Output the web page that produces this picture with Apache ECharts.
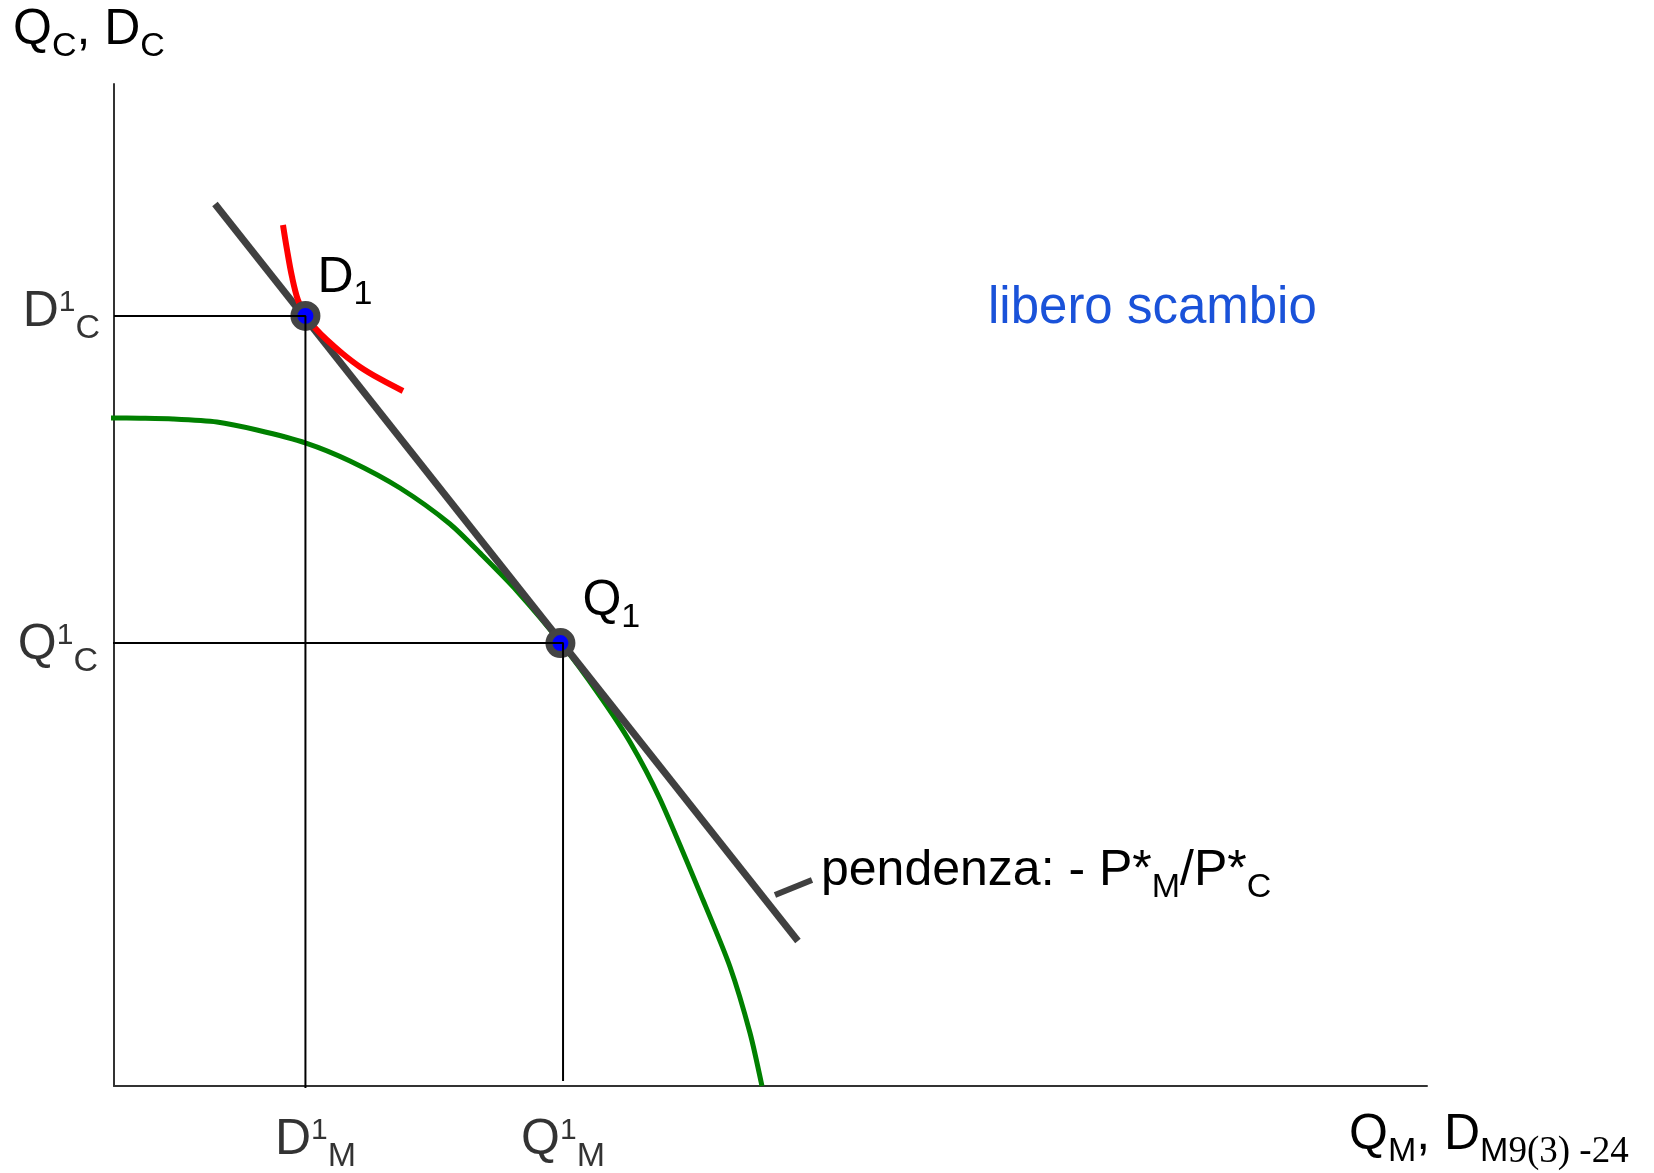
<!DOCTYPE html>
<html><head><meta charset="utf-8">
<script src="https://cdn.jsdelivr.net/npm/echarts@6/dist/echarts.min.js"></script>
<style>html,body{margin:0;padding:0;background:#fff}#c{width:1654px;height:1173px}</style>
</head><body><div id="c"></div>
<script>
// ---- data (axis units 0..100) ----
const ppfX = [-0.23, 1.98, 4.49, 7.84, 10.89, 14.62, 17.97, 21.78, 25.59, 28.10, 30.69, 34.04, 37.01, 39.30, 41.58, 44.86, 46.92, 48.44, 49.35];
const ppfY = [66.67, 66.64, 66.57, 66.27, 65.47, 64.17, 62.38, 59.68, 56.09, 52.89, 49.40, 44.21, 38.92, 34.33, 28.64, 18.56, 11.88, 5.29, 0];
const indiffX = [12.87, 13.18, 13.56, 14.01, 14.58, 15.31, 16.22, 17.44, 18.74, 20.26, 22.01];
const indiffY = [85.93, 83.43, 80.74, 78.44, 76.85, 75.65, 74.45, 73.05, 71.76, 70.56, 69.36];
const priceLineX = [7.69, 52.09];
const priceLineY = [88.02, 14.47];
const leaderX = [50.34, 53.16];
const leaderY = [19.06, 20.56];
const D1M = 14.58, D1C = 76.85;
const Q1M = 34.2, Q1C = 44.2;
const pointNames = ['D', 'Q'];

const SANS = '"Liberation Sans", Arial, sans-serif';
const SERIF = '"Liberation Serif", "Times New Roman", serif';
const st = (o) => Object.assign({fontFamily: SANS, color: '#000', fill: '#000'}, o);
const rich = {
  m: st({fontSize: 50}),
  s: st({fontSize: 34, padding: [34, 0, 0, 0]}),
  u: st({fontSize: 30, padding: [0, 0, 18, 0]}),
  t: st({fontSize: 37, fontFamily: SERIF, padding: [34, 0, 0, 0]}),
  b: st({fontSize: 51, color: '#1a52d9', fill: '#1a52d9'})
};
const zip = (a, b) => a.map((v, i) => [v, b[i]]);

const chart = echarts.init(document.getElementById('c'));
chart.setOption({
  animation: false,
  grid: {left: 114, top: 84, right: 227, bottom: 87, containLabel: false},
  xAxis: {type: 'value', min: 0, max: 100, axisLine: {show: true, lineStyle: {color: '#333', width: 2}},
    axisTick: {show: false}, axisLabel: {show: false}, splitLine: {show: false}},
  yAxis: {type: 'value', min: 0, max: 100, axisLine: {show: true, lineStyle: {color: '#333', width: 2}},
    axisTick: {show: false}, axisLabel: {show: false}, splitLine: {show: false}},
  series: [
    {type: 'line', data: zip(ppfX, ppfY), smooth: 0.25, showSymbol: false, clip: false, z: 2,
      lineStyle: {color: '#008000', width: 5}},
    {type: 'line', data: zip(priceLineX, priceLineY), showSymbol: false, clip: false, z: 3,
      lineStyle: {color: '#404040', width: 7, cap: 'butt'}},
    {type: 'line', data: zip(indiffX, indiffY), smooth: 0.35, showSymbol: false, clip: false, z: 4,
      lineStyle: {color: '#ff0000', width: 6}},
    {type: 'line', data: zip(leaderX, leaderY), showSymbol: false, clip: false, z: 3,
      lineStyle: {color: '#404040', width: 6}},
    {type: 'scatter', z: 5, symbolSize: 23,
      itemStyle: {color: '#0000ff', borderColor: '#444', borderWidth: 7, opacity: 1},
      data: [
        {value: [D1M, D1C], label: {show: true, position: 'right', offset: [-8, -38], color: '#000', formatter: '{m|' + pointNames[0] + '}{s|1}', rich: rich}},
        {value: [Q1M - 0.2, Q1C], label: {show: true, position: 'right', offset: [2, -42], color: '#000', formatter: '{m|' + pointNames[1] + '}{s|1}', rich: rich}}
      ]},
    {type: 'line', data: [[0, D1C], [D1M, D1C], [D1M, -0.2]], showSymbol: false, clip: false, z: 6,
      lineStyle: {color: '#000', width: 2}},
    {type: 'line', data: [[-0.6, Q1C], [Q1M, Q1C], [Q1M, 0.5]], showSymbol: false, clip: false, z: 6,
      lineStyle: {color: '#000', width: 2}},
    {type: 'scatter', symbolSize: 0, z: 7, silent: true,
      label: {show: true, position: 'left', distance: 14, color: '#000', rich: rich},
      data: [
        {value: [0, D1C], label: {formatter: '{m|D}{u|1}{s|C}', offset: [0, -4]}},
        {value: [0, Q1C], label: {formatter: '{m|Q}{u|1}{s|C}', offset: [-2, 2]}}
      ]},
    {type: 'scatter', symbolSize: 0, z: 7, silent: true,
      label: {show: true, position: 'bottom', distance: 22, color: '#000', rich: rich},
      data: [
        {value: [D1M, 0], label: {formatter: '{m|D}{u|1}{s|M}', offset: [10, -2]}},
        {value: [Q1M, 0], label: {formatter: '{m|Q}{u|1}{s|M}', offset: [0, -2]}}
      ]}
  ],
  graphic: [
    {type: 'text', left: 13, top: 5, style: {text: '{m|Q}{s|C}{m|, D}{s|C}', rich: rich}},
    {type: 'text', left: 1349, top: 1110, style: {text: '{m|Q}{s|M}{m|, D}{s|M}{t|9(3) -24}', rich: rich}},
    {type: 'text', left: 988, top: 283, style: {text: '{b|libero scambio}', rich: rich}},
    {type: 'text', left: 821, top: 846, style: {text: '{m|pendenza: - P*}{s|M}{m|/P*}{s|C}', rich: rich}}
  ]
});
</script></body></html>
